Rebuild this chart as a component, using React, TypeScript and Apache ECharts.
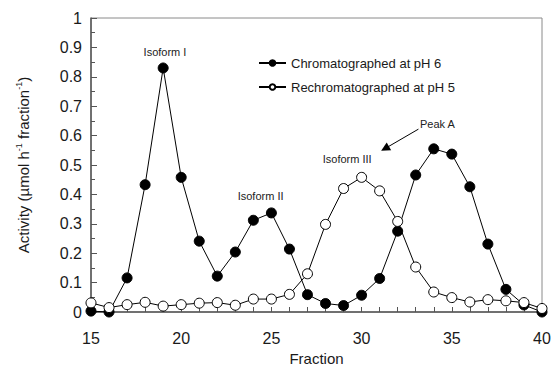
import React, { useEffect, useRef } from "react";
import * as echarts from "echarts";

// Fraction numbers along the x axis
const fractions = [
  15, 16, 17, 18, 19, 20, 21, 22, 23, 24, 25, 26, 27, 28, 29, 30, 31, 32, 33, 34,
  35, 36, 37, 38, 39, 40,
];

// Activity (µmol h-1 fraction-1), first run at pH 6
const activityPH6 = [
  0.003, 0.0, 0.116, 0.433, 0.83, 0.458, 0.241, 0.122, 0.204, 0.312, 0.337,
  0.214, 0.059, 0.029, 0.022, 0.057, 0.114, 0.275, 0.466, 0.555, 0.537, 0.426,
  0.231, 0.077, 0.024, 0.0,
];

// Activity after re-running the pooled fractions at pH 5
const activityPH5 = [
  0.031, 0.015, 0.025, 0.033, 0.02, 0.025, 0.03, 0.032, 0.023, 0.044, 0.044,
  0.06, 0.13, 0.298, 0.42, 0.458, 0.412, 0.308, 0.153, 0.068, 0.049, 0.034,
  0.042, 0.038, 0.032, 0.012,
];

const seriesNames = ["Chromatographed at pH 6", "Rechromatographed at pH 5"];

// Peak labels, anchored in data coordinates [fraction, activity]
const peakLabels: { text: string; at: [number, number] }[] = [
  { text: "Isoform I", at: [19.1, 0.885] },
  { text: "Isoform II", at: [24.4, 0.394] },
  { text: "Isoform III", at: [29.2, 0.52] },
  { text: "Peak A", at: [34.2, 0.64] },
];

// Arrow from the "Peak A" label towards the pH 5 peak
const peakArrow: [number, number][] = [
  [33.15, 0.622],
  [31.3, 0.556],
];

const FONT = "'Liberation Sans', Arial, Helvetica, sans-serif";
const INK = "#1a1a1a";
const AXIS = "#555";

export default function App() {
  const ref = useRef<HTMLDivElement>(null);

  useEffect(() => {
    if (!ref.current) return;
    const chart = echarts.init(ref.current, undefined, { renderer: "svg" });

    const toPairs = (ys: number[]) => fractions.map((f, i) => [f, ys[i]]);

    chart.setOption({
      animation: false,
      textStyle: { fontFamily: FONT },
      grid: {
        left: 91,
        right: 9,
        top: 18,
        bottom: 55,
        outerBoundsMode: "none",
        containLabel: false,
        show: true,
        borderColor: "#8a8a8a",
        borderWidth: 1,
      },
      legend: {
        orient: "vertical",
        left: 253,
        top: 51,
        itemWidth: 27,
        itemHeight: 7,
        itemGap: 10,
        selectedMode: false,
        textStyle: { fontSize: 13, color: INK, lineHeight: 14, fontFamily: FONT },
        data: seriesNames,
      },
      xAxis: {
        type: "value",
        min: 15,
        max: 40,
        interval: 5,
        name: "Fraction",
        nameLocation: "middle",
        nameGap: 38,
        nameTextStyle: { fontSize: 15, color: INK, fontFamily: FONT },
        axisLine: { lineStyle: { color: AXIS, width: 1.5 } },
        axisTick: { inside: true, length: 5, lineStyle: { color: AXIS } },
        minorTick: { show: true, splitNumber: 5, length: 5, lineStyle: { color: AXIS } },
        axisLabel: { fontSize: 16, color: INK, margin: 18, fontFamily: FONT },
        splitLine: { show: false },
      },
      yAxis: {
        type: "value",
        min: 0,
        max: 1,
        interval: 0.1,
        name:
          "{t|Activity (µmol h}{s|-1}{t| fraction}{s|-1}{t|)}",
        nameLocation: "middle",
        nameRotate: 90,
        nameGap: 59,
        nameTextStyle: {
          color: INK,
          fontFamily: FONT,
          rich: {
            t: { fontSize: 15, lineHeight: 18, color: INK, fontFamily: FONT },
            s: {
              fontSize: 9,
              lineHeight: 9,
              verticalAlign: "top",
              color: INK,
              fontFamily: FONT,
            },
          },
        },
        axisLine: { show: true, lineStyle: { color: AXIS, width: 1.5 } },
        axisTick: { show: true, inside: true, length: 6, lineStyle: { color: AXIS } },
        minorTick: { show: true, splitNumber: 2, length: 4, lineStyle: { color: AXIS } },
        axisLabel: { fontSize: 16, color: INK, margin: 9, fontFamily: FONT },
        splitLine: { show: false },
      },
      series: [
        {
          name: seriesNames[0],
          type: "line",
          data: toPairs(activityPH6),
          symbol: "circle",
          symbolSize: 10,
          lineStyle: { color: "#000", width: 1 },
          itemStyle: { color: "#000", borderColor: "#000", borderWidth: 1 },
          emphasis: { disabled: true },
          z: 2,
        },
        {
          name: seriesNames[1],
          type: "line",
          data: toPairs(activityPH5),
          symbol: "circle",
          symbolSize: 10,
          lineStyle: { color: "#000", width: 1 },
          itemStyle: { color: "#fff", borderColor: "#000", borderWidth: 1 },
          emphasis: { disabled: true },
          markLine: {
            silent: true,
            symbol: ["none", "triangle"],
            symbolSize: [9, 9],
            label: { show: false },
            lineStyle: { color: "#000", width: 1, type: "solid" },
            data: [
              [
                { coord: peakArrow[0] },
                { coord: peakArrow[1] },
              ],
            ],
          },
          z: 3,
        },
      ],
    });

    // Peak captions placed through the grid's own coordinate system
    chart.setOption({
      graphic: peakLabels.map((p) => {
        const [px, py] = chart.convertToPixel({ gridIndex: 0 }, p.at) as number[];
        return {
          type: "text",
          x: px,
          y: py,
          silent: true,
          style: {
            text: p.text,
            fontSize: 11,
            fontFamily: FONT,
            fill: "#222",
            align: "center",
            verticalAlign: "middle",
          },
        };
      }),
    });

    return () => chart.dispose();
  }, []);

  return (
    <div
      ref={ref}
      style={{ position: "absolute", left: 0, top: 0, width: 551, height: 367 }}
    />
  );
}
